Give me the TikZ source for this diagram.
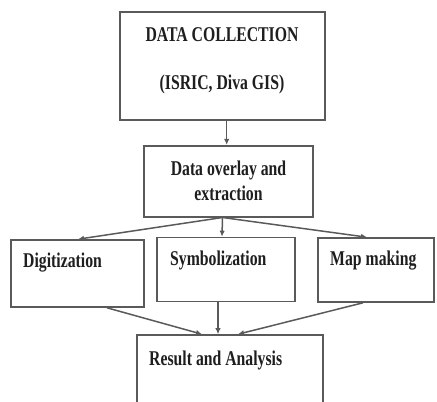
\documentclass[tikz,border=0pt]{standalone}
\usepackage{fontspec}
\setmainfont{Liberation Serif}[FakeStretch=0.75]
\usetikzlibrary{arrows.meta}
\definecolor{linegray}{HTML}{5A5A5A}
\definecolor{inkgray}{HTML}{1E1E1E}
\begin{document}
\begin{tikzpicture}[x=1pt,y=1pt,
  box/.style={draw=linegray, line width=1.6pt, inner sep=0pt},
  txt/.style={text=inkgray, font=\fontsize{21}{25}\selectfont\bfseries, inner sep=0pt},
  arr/.style={draw=linegray, line width=1.5pt, -{Latex[length=6pt,width=5.5pt]}}]
\useasboundingbox (0,0) rectangle (437,-402);
% boxes
\node[box, minimum width=205pt, minimum height=108pt] (b1) at (222.5,-66) {};
\node[box, minimum width=169pt, minimum height=71pt] (b2) at (228.5,-181.2) {};
\node[box, minimum width=133pt, minimum height=67pt] (dig) at (77.5,-273.5) {};
\node[box, minimum width=138pt, minimum height=64pt] (sym) at (226,-269.5) {};
\node[box, minimum width=116pt, minimum height=64pt] (map) at (376,-270) {};
\node[box, minimum width=186pt, minimum height=100pt] (res) at (230,-385) {};
% texts
\node[txt, anchor=base] (t1) at (222,-41.5) {DATA COLLECTION};
\node[txt, anchor=base] (t2) at (222,-89.5) {(ISRIC, Diva GIS)};
\node[txt, anchor=base] (t3) at (228.5,-175.5) {Data overlay and};
\node[txt, anchor=base] (t4) at (228.5,-200.5) {extraction};
\node[txt, anchor=base west] (t5) at (23,-267.5) {Digitization};
\node[txt, anchor=base west] (t6) at (170,-265.5) {Symbolization};
\node[txt, anchor=base west] (t7) at (330,-265.5) {Map making};
\node[txt, anchor=base west] (t8) at (149,-365.5) {Result and Analysis};
% connectors
\draw[arr] ([xshift=4.2pt]b1.south) -- ([xshift=-1.8pt]b2.north);
\draw[arr] ([xshift=-6pt]b2.south) -- ([xshift=0.5pt]dig.north);
\draw[arr] ([xshift=-6pt]b2.south) -- ([xshift=-4pt]sym.north);
\draw[arr] ([xshift=-6pt]b2.south) -- ([xshift=-9pt]map.north);
\draw[arr] ([xshift=29.5pt]dig.south) -- ([xshift=-28pt]res.north);
\draw[arr] ([xshift=-8pt]sym.south) -- ([xshift=-12pt]res.north);
\draw[arr] ([xshift=-13pt]map.south) -- ([xshift=8pt]res.north);
\end{tikzpicture}
\end{document}
